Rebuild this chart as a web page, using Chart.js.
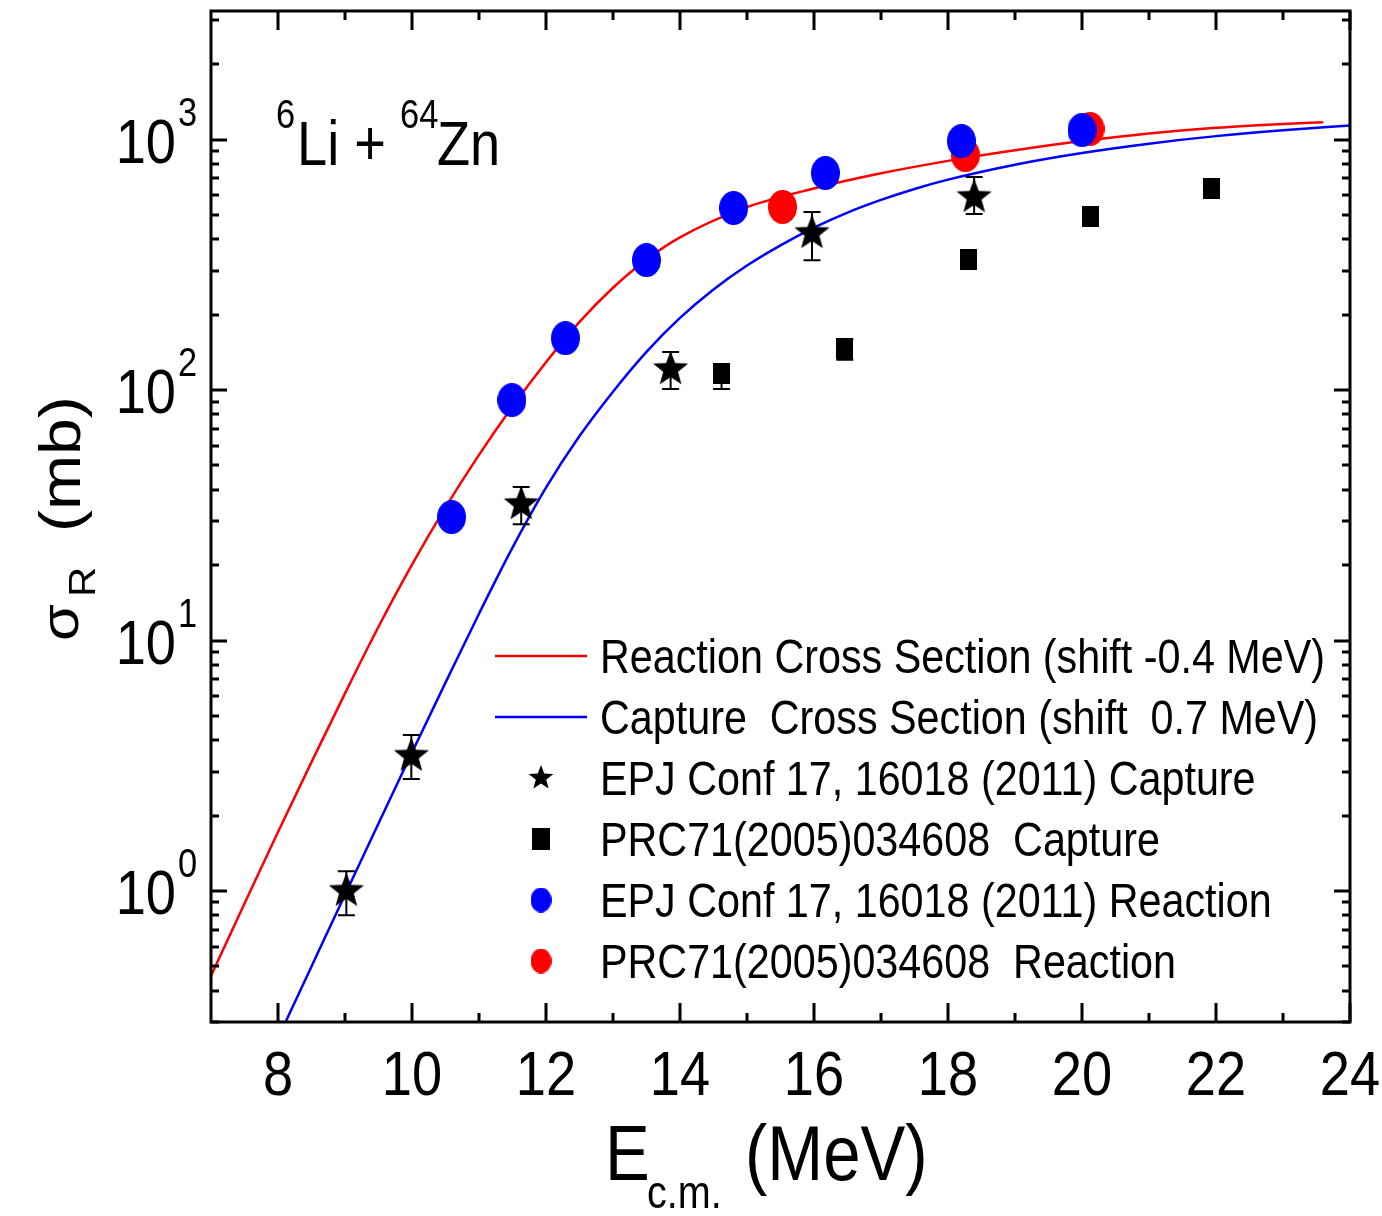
<!DOCTYPE html>
<html>
<head>
<meta charset="utf-8">
<title>6Li + 64Zn cross sections</title>
<script src="https://cdn.jsdelivr.net/npm/chart.js@4.4.1/dist/chart.umd.min.js"></script>
<style>
  html, body { margin: 0; padding: 0; background: #fff; }
  #crossSection { display: block; }
</style>
</head>
<body>
<canvas id="crossSection" width="1382" height="1216"></canvas>
<script>
// measured capture cross sections (mb) with error limits
const epjCaptureE   = [9.02, 9.99, 11.63, 13.86, 15.97, 18.39];
const epjCaptureSig = [1.0, 3.46, 35.0, 121, 423, 589];
const epjCaptureLo  = [0.80, 2.80, 29.1, 101, 330, 504];
const epjCaptureHi  = [1.20, 4.20, 41.0, 142, 514, 708];

const prcCaptureE   = [14.62, 16.46, 18.30, 20.12, 21.94];
const prcCaptureSig = [116, 146, 333, 491, 640];
const prcCaptureLo  = [101, 132, 333, 491, 640];
const prcCaptureHi  = [126, 159, 333, 491, 640];

// measured reaction cross sections (mb)
const epjReactionE   = [10.59, 11.49, 12.29, 13.50, 14.80, 16.17, 18.20, 20.00];
const epjReactionSig = [31.1, 91.2, 161, 330, 533, 735, 986, 1091];

const prcReactionE   = [15.53, 18.26, 20.12];
const prcReactionSig = [538, 867, 1102];

// calculated curves
const reactionCurveE   = [7.0, 7.5, 8.0, 8.5, 9.0, 9.5, 10.0, 10.5, 11.0, 11.5, 12.0, 12.5, 13.0, 13.5, 14.0, 15.0, 16.0, 17.0, 18.0, 19.0, 20.0, 21.0, 22.0, 23.0, 23.6];
const reactionCurveSig = [0.458, 0.891, 1.72, 3.27, 6.15, 11.35, 20.1, 34.0, 55.1, 85.9, 129, 187, 256, 332, 407, 537, 638, 733, 822, 906, 986, 1057, 1114, 1154, 1172];

const captureCurveE   = [8.1, 8.5, 9.0, 9.5, 10.0, 10.5, 11.0, 11.5, 12.0, 12.5, 13.0, 13.5, 14.0, 14.5, 15.0, 15.5, 16.0, 16.5, 17.0, 17.5, 18.0, 19.0, 20.0, 21.0, 22.0, 23.0, 24.0];
const captureCurveSig = [0.295, 0.50, 0.966, 1.86, 3.57, 6.79, 12.8, 23.5, 40.8, 65.5, 98.5, 142, 194, 252, 314, 378, 445, 511, 574, 635, 692, 794, 884, 963, 1032, 1089, 1137];

// axis ticks
const xMajor = [8, 10, 12, 14, 16, 18, 20, 22, 24];
const xMinor = [9, 11, 13, 15, 17, 19, 21, 23];
const yMajor = [1, 10, 100, 1000];
const yMajorExp = ['0', '1', '2', '3'];
const yMinor = [0.3, 0.4, 0.5, 0.6, 0.7, 0.8, 0.9,
                2, 3, 4, 5, 6, 7, 8, 9,
                20, 30, 40, 50, 60, 70, 80, 90,
                200, 300, 400, 500, 600, 700, 800, 900,
                2000, 3000];

const legendLabels = [
  'Reaction Cross Section (shift -0.4 MeV)',
  'Capture  Cross Section (shift  0.7 MeV)',
  'EPJ Conf 17, 16018 (2011) Capture',
  'PRC71(2005)034608  Capture',
  'EPJ Conf 17, 16018 (2011) Reaction',
  'PRC71(2005)034608  Reaction'
];

const RED = '#ff0000';
const BLUE = '#0000ff';
const FONT = '"Liberation Sans", Arial, sans-serif';
const SQUEEZE = 0.86;   // narrow lettering

function pts(xs, ys) {
  return xs.map((v, i) => ({ x: v, y: ys[i] }));
}

function makeEllipse(w, h, color) {
  const c = document.createElement('canvas');
  c.width = w; c.height = h;
  const g = c.getContext('2d');
  g.fillStyle = color;
  g.beginPath();
  g.ellipse(w / 2, h / 2, w / 2, h / 2, 0, 0, Math.PI * 2);
  g.fill();
  return c;
}

function makeStar(r) {
  const size = Math.ceil(r * 2 + 2);
  const c = document.createElement('canvas');
  c.width = size; c.height = size;
  const g = c.getContext('2d');
  g.fillStyle = '#000';
  g.beginPath();
  for (let i = 0; i < 10; i++) {
    const rad = i % 2 === 0 ? r : r * 0.42;
    const a = -Math.PI / 2 + i * Math.PI / 5;
    const px = size / 2 + rad * Math.cos(a);
    const py = size / 2 + rad * Math.sin(a);
    if (i === 0) g.moveTo(px, py); else g.lineTo(px, py);
  }
  g.closePath();
  g.fill();
  return c;
}

function makeBox(w, h) {
  const c = document.createElement('canvas');
  c.width = w; c.height = h;
  const g = c.getContext('2d');
  g.fillStyle = '#000';
  g.fillRect(0, 0, w, h);
  return c;
}

const starMark = makeStar(18.5);
const boxMark = makeBox(17, 21);
const blueDot = makeEllipse(29, 34, BLUE);
const redDot = makeEllipse(29, 34, RED);

const legendStar = makeStar(13);
const legendBox = makeBox(18, 22);
const legendBlue = makeEllipse(21, 25, BLUE);
const legendRed = makeEllipse(21, 25, RED);

// text with optional 90 degree turn, drawn condensed
function say(ctx, str, x, y, size, align, rotated) {
  ctx.save();
  ctx.translate(x, y);
  if (rotated) {
    ctx.rotate(-Math.PI / 2);
    ctx.scale(1, SQUEEZE);
  } else {
    ctx.scale(SQUEEZE, 1);
  }
  ctx.font = size + 'px ' + FONT;
  ctx.textAlign = align || 'left';
  ctx.textBaseline = 'alphabetic';
  ctx.fillStyle = '#000';
  ctx.fillText(str, 0, 0);
  ctx.restore();
}

const decorations = {
  id: 'decorations',
  afterDatasetsDraw(chart) {
    const ctx = chart.ctx;
    const a = chart.chartArea;
    const xs = chart.scales.x;
    const ys = chart.scales.y;

    ctx.save();
    ctx.strokeStyle = '#000';
    ctx.lineCap = 'butt';

    // error bars
    ctx.lineWidth = 2;
    function bars(E, lo, hi) {
      E.forEach((e, i) => {
        if (lo[i] === hi[i]) return;
        const px = xs.getPixelForValue(e);
        const top = ys.getPixelForValue(hi[i]);
        const bot = ys.getPixelForValue(lo[i]);
        ctx.beginPath();
        ctx.moveTo(px, top); ctx.lineTo(px, bot);
        ctx.moveTo(px - 8.5, top); ctx.lineTo(px + 8.5, top);
        ctx.moveTo(px - 8.5, bot); ctx.lineTo(px + 8.5, bot);
        ctx.stroke();
      });
    }
    bars(epjCaptureE, epjCaptureLo, epjCaptureHi);
    bars(prcCaptureE, prcCaptureLo, prcCaptureHi);

    // frame
    ctx.lineWidth = 3;
    ctx.strokeRect(a.left, a.top, a.right - a.left, a.bottom - a.top);

    // inward ticks on all four sides
    ctx.beginPath();
    xMajor.concat(xMinor).forEach(v => {
      const len = xMajor.includes(v) ? 19 : 9;
      const px = Math.round(xs.getPixelForValue(v));
      ctx.moveTo(px, a.bottom); ctx.lineTo(px, a.bottom - len);
      ctx.moveTo(px, a.top); ctx.lineTo(px, a.top + len);
    });
    yMajor.concat(yMinor).forEach(v => {
      const len = yMajor.includes(v) ? 16 : 8;
      const py = Math.round(ys.getPixelForValue(v));
      ctx.moveTo(a.left, py); ctx.lineTo(a.left + len, py);
      ctx.moveTo(a.right, py); ctx.lineTo(a.right - len, py);
    });
    ctx.stroke();

    // tick labels
    xMajor.forEach(v => {
      say(ctx, String(v), xs.getPixelForValue(v), a.bottom + 73, 63, 'center');
    });
    yMajor.forEach((v, i) => {
      const py = ys.getPixelForValue(v);
      say(ctx, '10', 176, py + 23, 63, 'right');
      say(ctx, yMajorExp[i], 178, py - 14, 40, 'left');
    });

    // axis titles
    say(ctx, 'E', 605, 1180, 78, 'left');
    say(ctx, 'c.m.', 647, 1208, 46, 'left');
    say(ctx, '(MeV)', 745, 1180, 78, 'left');

    say(ctx, '\u03c3', 78, 641, 60, 'left', true);
    say(ctx, 'R', 95, 597, 42, 'left', true);
    say(ctx, '(mb)', 80, 532, 66, 'left', true);

    // system label
    say(ctx, '6', 276, 128, 40, 'left');
    say(ctx, 'Li +', 297, 165, 63, 'left');
    say(ctx, '64', 400, 128, 40, 'left');
    say(ctx, 'Zn', 437, 165, 63, 'left');

    // legend
    const rowY = [656, 717, 778, 839, 900, 961];
    ctx.lineWidth = 2.5;
    [RED, BLUE].forEach((c, i) => {
      ctx.strokeStyle = c;
      ctx.beginPath();
      ctx.moveTo(495, rowY[i]); ctx.lineTo(587, rowY[i]);
      ctx.stroke();
    });
    [legendStar, legendBox, legendBlue, legendRed].forEach((m, i) => {
      ctx.drawImage(m, 541 - m.width / 2, rowY[i + 2] - m.height / 2);
    });
    legendLabels.forEach((t, i) => {
      say(ctx, t, 600, rowY[i] + 17, 48, 'left');
    });

    ctx.restore();
  }
};

const curveStyle = {
  showLine: true,
  pointRadius: 0,
  borderWidth: 2.5,
  cubicInterpolationMode: 'monotone',
  fill: false
};

new Chart(document.getElementById('crossSection'), {
  type: 'scatter',
  data: {
    datasets: [
      Object.assign({ label: legendLabels[0], data: pts(reactionCurveE, reactionCurveSig), borderColor: RED, order: 5 }, curveStyle),
      Object.assign({ label: legendLabels[1], data: pts(captureCurveE, captureCurveSig), borderColor: BLUE, order: 4 }, curveStyle),
      { label: legendLabels[5], data: pts(prcReactionE, prcReactionSig), pointStyle: redDot, order: 3 },
      { label: legendLabels[3], data: pts(prcCaptureE, prcCaptureSig), pointStyle: boxMark, order: 2 },
      { label: legendLabels[2], data: pts(epjCaptureE, epjCaptureSig), pointStyle: starMark, order: 1 },
      { label: legendLabels[4], data: pts(epjReactionE, epjReactionSig), pointStyle: blueDot, order: 0 }
    ]
  },
  options: {
    responsive: false,
    animation: false,
    events: [],
    layout: { padding: { left: 211, top: 11, right: 32, bottom: 194 } },
    plugins: {
      legend: { display: false },
      tooltip: { enabled: false }
    },
    scales: {
      x: { type: 'linear', min: 7, max: 24, display: false },
      y: { type: 'logarithmic', min: 0.3, max: 3260, display: false }
    }
  },
  plugins: [decorations]
});
</script>
</body>
</html>
